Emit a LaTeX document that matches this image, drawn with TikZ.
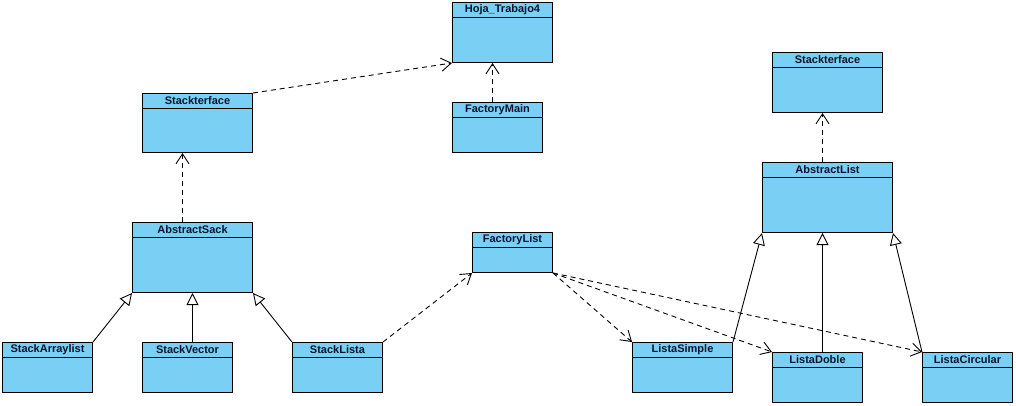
\documentclass[tikz,border=0pt]{standalone}
\usepackage{fontspec}
\setmainfont{Liberation Sans}
\usetikzlibrary{arrows.meta}
\definecolor{clsblue}{RGB}{122,207,245}
\definecolor{clstext}{RGB}{10,20,45}
\tikzset{
	cls/.style={draw,fill=clsblue,line width=1pt,anchor=north west,inner sep=0pt,
		path picture={\draw[line width=1pt] ([yshift=-15pt]path picture bounding box.north west)--([yshift=-15pt]path picture bounding box.north east);}},
	ttl/.style={anchor=north,inner sep=0pt,minimum height=15pt,text=clstext,font=\fontsize{11}{12}\selectfont\bfseries},
	dep/.style={dashed,dash pattern=on 5pt off 4pt,line width=0.9pt,-{Straight Barb[length=10pt,width=13pt,line width=0.9pt]}},
	inh/.style={line width=0.9pt,-{Triangle[open,fill=white,length=12pt,width=12pt,line width=0.9pt]}}
}
\begin{document}
\begin{tikzpicture}[x=1pt,y=-1pt,line join=round]
	\useasboundingbox (0,0) rectangle (1016,406);
	% classes
	\node[cls,minimum width=100pt,minimum height=60pt,label={[ttl]north:Hoja\_Trabajo4}] (hoja) at (452,2) {};
	\node[cls,minimum width=90pt,minimum height=50pt,label={[ttl]north:FactoryMain}] (fmain) at (452,102) {};
	\node[cls,minimum width=110pt,minimum height=59pt,label={[ttl]north:Stackterface}] (sifL) at (142,93) {};
	\node[cls,minimum width=120pt,minimum height=70pt,label={[ttl]north:AbstractSack}] (sack) at (132,222) {};
	\node[cls,minimum width=90pt,minimum height=50pt,label={[ttl]north:StackArraylist}] (sarr) at (2,342) {};
	\node[cls,minimum width=90pt,minimum height=50pt,label={[ttl]north:StackVector}] (svec) at (142,342) {};
	\node[cls,minimum width=90pt,minimum height=50pt,label={[ttl]north:StackLista}] (slista) at (292,342) {};
	\node[cls,minimum width=80pt,minimum height=40pt,label={[ttl]north:FactoryList}] (flist) at (472,232) {};
	\node[cls,minimum width=110pt,minimum height=60pt,label={[ttl]north:Stackterface}] (sifR) at (772,52) {};
	\node[cls,minimum width=130pt,minimum height=70pt,label={[ttl]north:AbstractList}] (alist) at (762,162) {};
	\node[cls,minimum width=100pt,minimum height=50pt,label={[ttl]north:ListaSimple}] (lsimple) at (632,342) {};
	\node[cls,minimum width=90pt,minimum height=50pt,label={[ttl]north:ListaDoble}] (ldoble) at (772,352) {};
	\node[cls,minimum width=90pt,minimum height=50pt,label={[ttl]north:ListaCircular}] (lcirc) at (922,352) {};
	% dependencies
	\draw[dep] (sifL.north east)--(hoja.south west);
	\draw[dep] ([xshift=-5pt]fmain.north)--([xshift=-5pt]fmain.north |- hoja.south);
	\draw[dep] ([xshift=-10pt]sack.north)--([xshift=-10pt]sack.north |- sifL.south);
	\draw[dep] (slista.north east)--(flist.south west);
	\draw[dep] (flist.south east)--(lsimple.north west);
	\draw[dep] (flist.south east)--(ldoble.north west);
	\draw[dep] (flist.south east)--(lcirc.north west);
	\draw[dep] ([xshift=-5pt]alist.north)--([xshift=-5pt]alist.north |- sifR.south);
	% generalizations
	\draw[inh] (sarr.north east)--(sack.south west);
	\draw[inh] (sack.south |- svec.north)--(sack.south);
	\draw[inh] (slista.north west)--(sack.south east);
	\draw[inh] (lsimple.north east)--(alist.south west);
	\draw[inh] ([xshift=5pt]ldoble.north)--([xshift=5pt]ldoble.north |- alist.south);
	\draw[inh] (lcirc.north west)--(alist.south east);
\end{tikzpicture}
\end{document}
